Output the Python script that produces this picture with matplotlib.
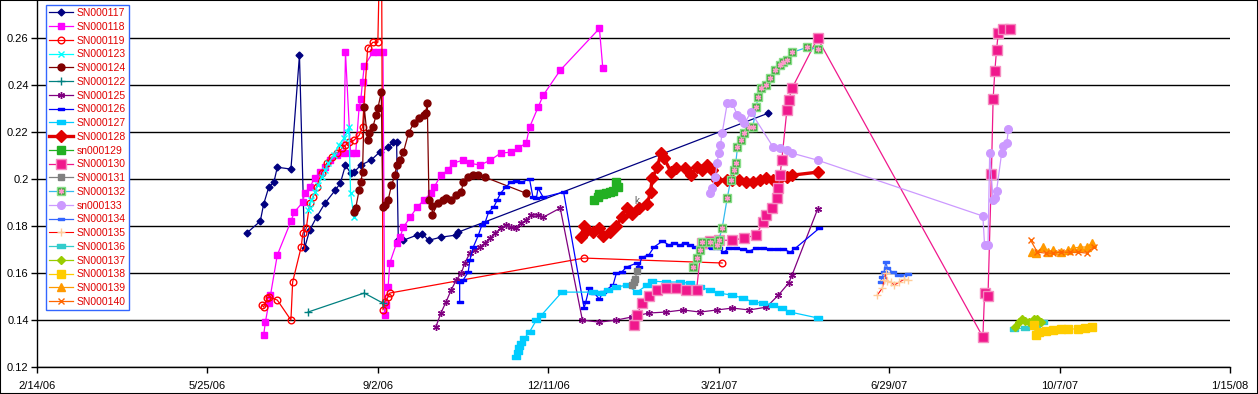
import matplotlib

matplotlib.use("Agg")
import matplotlib.pyplot as plt
import numpy as np
import pandas as pd
from matplotlib.path import Path
from matplotlib.patches import Rectangle
from matplotlib.ticker import FuncFormatter

d117 = [38885, 38893, 38895, 38898, 38901, 38903, 38911, 38916, 38919, 38922, 38926, 38931, 38937, 38940,
        38943, 38946, 38948, 38952, 38958, 38963, 38968, 38971, 38973, 38974, 38977, 38985, 38988, 38992,
        38999, 39008, 39009, 39191]
v117 = [0.1770, 0.1821, 0.1894, 0.1966, 0.1987, 0.2051, 0.2043, 0.2528, 0.1706, 0.1783, 0.1838, 0.1898,
        0.1953, 0.1983, 0.2060, 0.2026, 0.2030, 0.2060, 0.2081, 0.2115, 0.2136, 0.2157, 0.2157, 0.1740,
        0.1740, 0.1762, 0.1766, 0.1740, 0.1753, 0.1762, 0.1774, 0.2281]

d118 = [38895, 38896, 38898, 38899, 38903, 38911, 38913, 38918, 38919, 38922, 38925, 38928, 38931, 38934,
        38938, 38942, 38943, 38946, 38949, 38951, 38952, 38953, 38954, 38959, 38962, 38965, 38966, 38967,
        38968, 38969, 38973, 38975, 38977, 38981, 38985, 38989, 38993, 38995, 38999, 39003, 39006, 39012,
        39016, 39022, 39028, 39034, 39040, 39044, 39049, 39051, 39056, 39059, 39069, 39092, 39094]
v118 = [0.1336, 0.1391, 0.1472, 0.1506, 0.1677, 0.1821, 0.1860, 0.1902, 0.1940, 0.1966, 0.2004, 0.2030,
        0.2051, 0.2081, 0.2102, 0.2111, 0.2540, 0.2111, 0.2111, 0.2306, 0.2340, 0.2413, 0.2481, 0.2540,
        0.2540, 0.2540, 0.1421, 0.1464, 0.1540, 0.1643, 0.1728, 0.1753, 0.1796, 0.1838, 0.1881, 0.1911,
        0.1940, 0.1966, 0.2017, 0.2038, 0.2068, 0.2081, 0.2068, 0.2060, 0.2081, 0.2111, 0.2115, 0.2132,
        0.2153, 0.2221, 0.2306, 0.2357, 0.2464, 0.2642, 0.2472]

d119 = [38894, 38895, 38897, 38898, 38903, 38911, 38912, 38917, 38918, 38920, 38922, 38924, 38926, 38929,
        38932, 38935, 38938, 38941, 38943, 38945, 38948, 38951, 38953, 38956, 38959, 38962, 38964, 38965,
        38966, 38968, 38969, 39083, 39164]
v119 = [0.1464, 0.1455, 0.1494, 0.1498, 0.1485, 0.1400, 0.1562, 0.1711, 0.1770, 0.1791, 0.1898, 0.1923,
        0.1966, 0.2026, 0.2068, 0.2094, 0.2111, 0.2132, 0.2145, 0.2157, 0.2166, 0.2187, 0.2221, 0.2557,
        0.2583, 0.2583, 0.3300, 0.1443, 0.1477, 0.1498, 0.1515, 0.1664, 0.1643]

d123 = [38921, 38922, 38923, 38925, 38927, 38929, 38931, 38933, 38936, 38939, 38942, 38944, 38945, 38946,
        38948]
v123 = [0.1868, 0.1877, 0.1911, 0.1945, 0.1974, 0.2008, 0.2038, 0.2068, 0.2102, 0.2145, 0.2174, 0.2200,
        0.2221, 0.1940, 0.1838]

d124 = [38948, 38949, 38951, 38952, 38953, 38954, 38956, 38957, 38959, 38961, 38962, 38964, 38965, 38966,
        38968, 38970, 38972, 38973, 38975, 38977, 38980, 38983, 38986, 38989, 38990, 38991, 38992, 38994,
        38994, 38997, 39000, 39002, 39005, 39008, 39011, 39012, 39015, 39018, 39021, 39025, 39049]
v124 = [0.1860, 0.1877, 0.1953, 0.1987, 0.2030, 0.2306, 0.2166, 0.2196, 0.2221, 0.2272, 0.2302, 0.2370,
        0.1881, 0.1889, 0.1911, 0.1974, 0.2017, 0.2060, 0.2081, 0.2115, 0.2196, 0.2238, 0.2260, 0.2272,
        0.2281, 0.2323, 0.1911, 0.1885, 0.1847, 0.1898, 0.1911, 0.1919, 0.1911, 0.1932, 0.1945, 0.1987,
        0.2008, 0.2017, 0.2017, 0.2008, 0.1940]

d122 = [38921, 38954, 38965]
v122 = [0.1434, 0.1515, 0.1472]

d125 = [38996, 38999, 39002, 39005, 39008, 39011, 39013, 39016, 39019, 39022, 39025, 39028, 39031, 39034,
        39037, 39040, 39043, 39046, 39049, 39052, 39056, 39059, 39069, 39082, 39092, 39102, 39111, 39121,
        39131, 39141, 39151, 39161, 39170, 39180, 39190, 39197, 39203, 39205, 39220]
v125 = [0.1370, 0.1430, 0.1477, 0.1528, 0.1570, 0.1600, 0.1643, 0.1685, 0.1698, 0.1711, 0.1728, 0.1749,
        0.1770, 0.1791, 0.1804, 0.1796, 0.1791, 0.1813, 0.1825, 0.1847, 0.1847, 0.1838, 0.1877, 0.1400,
        0.1391, 0.1400, 0.1413, 0.1430, 0.1434, 0.1443, 0.1434, 0.1443, 0.1451, 0.1443, 0.1455, 0.1506,
        0.1557, 0.1591, 0.1872]

d126 = [39010, 39010, 39012, 39015, 39016, 39018, 39021, 39023, 39025, 39027, 39030, 39032, 39034, 39037,
        39040, 39043, 39046, 39051, 39053, 39055, 39056, 39059, 39071, 39083, 39084, 39086, 39089, 39092,
        39094, 39100, 39102, 39105, 39108, 39114, 39115, 39117, 39121, 39124, 39129, 39133, 39136, 39139,
        39142, 39145, 39148, 39151, 39155, 39158, 39162, 39165, 39168, 39172, 39176, 39180, 39184, 39188,
        39192, 39196, 39200, 39204, 39207, 39221]
v126 = [0.1477, 0.1562, 0.1570, 0.1604, 0.1655, 0.1711, 0.1762, 0.1804, 0.1817, 0.1860, 0.1881, 0.1911,
        0.1940, 0.1966, 0.1987, 0.1991, 0.1987, 0.2000, 0.1923, 0.1919, 0.1962, 0.1923, 0.1945, 0.1451,
        0.1477, 0.1536, 0.1515, 0.1489, 0.1519, 0.1549, 0.1600, 0.1604, 0.1626, 0.1643, 0.1626, 0.1668,
        0.1677, 0.1711, 0.1736, 0.1719, 0.1728, 0.1719, 0.1728, 0.1719, 0.1711, 0.1706, 0.1711, 0.1706,
        0.1706, 0.1689, 0.1706, 0.1706, 0.1702, 0.1694, 0.1706, 0.1706, 0.1702, 0.1702, 0.1702, 0.1689,
        0.1706, 0.1791]

d127 = [39043, 39044, 39045, 39046, 39048, 39051, 39055, 39058, 39070, 39088, 39093, 39097, 39102, 39108,
        39114, 39120, 39123, 39131, 39139, 39145, 39151, 39157, 39162, 39170, 39176, 39182, 39188, 39194,
        39199, 39204, 39220]
v127 = [0.1243, 0.1264, 0.1285, 0.1302, 0.1323, 0.1349, 0.1400, 0.1421, 0.1519, 0.1519, 0.1515, 0.1528,
        0.1540, 0.1549, 0.1519, 0.1549, 0.1566, 0.1562, 0.1562, 0.1557, 0.1540, 0.1528, 0.1515, 0.1506,
        0.1494, 0.1477, 0.1472, 0.1464, 0.1451, 0.1434, 0.1409]

d128 = [39081, 39083, 39085, 39088, 39092, 39094, 39098, 39102, 39105, 39108, 39111, 39115, 39120, 39122,
        39123, 39126, 39128, 39130, 39134, 39137, 39142, 39146, 39149, 39152, 39155, 39158, 39161, 39167,
        39170, 39174, 39178, 39182, 39186, 39190, 39194, 39198, 39202, 39205, 39220]
v128 = [0.1753, 0.1800, 0.1783, 0.1774, 0.1791, 0.1757, 0.1774, 0.1800, 0.1838, 0.1877, 0.1851, 0.1877,
        0.1894, 0.1945, 0.2004, 0.2051, 0.2111, 0.2089, 0.2030, 0.2047, 0.2047, 0.2017, 0.2051, 0.2038,
        0.2060, 0.2038, 0.1996, 0.1996, 0.1996, 0.1996, 0.1987, 0.1987, 0.1996, 0.2004, 0.1996, 0.2004,
        0.2008, 0.2017, 0.2030]

d129 = [39089, 39091, 39092, 39094, 39096, 39098, 39100, 39102, 39103]
v129 = [0.1911, 0.1923, 0.1936, 0.1936, 0.1940, 0.1945, 0.1949, 0.1987, 0.1966]

d130 = [39112, 39114, 39117, 39121, 39126, 39131, 39137, 39143, 39149, 39152, 39157, 39162, 39170, 39177,
        39184, 39188, 39190, 39193, 39196, 39197, 39198, 39199, 39202, 39203, 39205, 39220, 39317, 39318,
        39320, 39322, 39323, 39324, 39325, 39326, 39329, 39333]
v130 = [0.1379, 0.1421, 0.1472, 0.1502, 0.1528, 0.1536, 0.1536, 0.1528, 0.1528, 0.1728, 0.1736, 0.1740,
        0.1740, 0.1749, 0.1762, 0.1817, 0.1847, 0.1877, 0.1919, 0.1962, 0.2017, 0.2081, 0.2294, 0.2336,
        0.2387, 0.2600, 0.1328, 0.1515, 0.1502, 0.2021, 0.2340, 0.2459, 0.2549, 0.2621, 0.2638, 0.2638]

d131 = [39111, 39112, 39113, 39114]
v131 = [0.1549, 0.1562, 0.1574, 0.1608]

d132 = [39147, 39149, 39151, 39152, 39157, 39161, 39162, 39164, 39167, 39169, 39171, 39172, 39173, 39175,
        39177, 39180, 39182, 39184, 39185, 39187, 39190, 39192, 39195, 39198, 39200, 39202, 39205, 39214,
        39220]
v132 = [0.1626, 0.1664, 0.1698, 0.1732, 0.1732, 0.1719, 0.1740, 0.1791, 0.1919, 0.1996, 0.2038, 0.2068,
        0.2136, 0.2166, 0.2196, 0.2221, 0.2221, 0.2306, 0.2349, 0.2387, 0.2400, 0.2430, 0.2464, 0.2485,
        0.2498, 0.2506, 0.2540, 0.2562, 0.2553]

d133 = [39157, 39158, 39160, 39161, 39162, 39163, 39164, 39167, 39170, 39173, 39175, 39177, 39181, 39194,
        39198, 39202, 39205, 39220, 39317, 39318, 39320, 39321, 39323, 39324, 39325, 39328, 39329, 39331,
        39332]
v133 = [0.1940, 0.1962, 0.2008, 0.2068, 0.2111, 0.2145, 0.2196, 0.2323, 0.2323, 0.2272, 0.2260, 0.2238,
        0.2285, 0.2136, 0.2132, 0.2123, 0.2111, 0.2081, 0.1843, 0.1719, 0.1719, 0.2111, 0.1911, 0.1919,
        0.1949, 0.2111, 0.2140, 0.2153, 0.2213]

d134 = [39257, 39258, 39259, 39260, 39261, 39264, 39267, 39270, 39273]
v134 = [0.1562, 0.1583, 0.1604, 0.1647, 0.1621, 0.1604, 0.1591, 0.1591, 0.1596]

d135 = [39255, 39258, 39259, 39260, 39261, 39263, 39265, 39268, 39271, 39273]
v135 = [0.1506, 0.1536, 0.1570, 0.1600, 0.1566, 0.1562, 0.1549, 0.1562, 0.1574, 0.1570]

d136 = [39335, 39342, 39348, 39352]
v136 = [0.1362, 0.1366, 0.1370, 0.1391]

d137 = [39336, 39338, 39340, 39342, 39344, 39347, 39349, 39351]
v137 = [0.1370, 0.1391, 0.1404, 0.1396, 0.1391, 0.1404, 0.1404, 0.1391]

d138 = [39347, 39348, 39350, 39354, 39358, 39363, 39367, 39373, 39377, 39381]
v138 = [0.1379, 0.1336, 0.1349, 0.1353, 0.1357, 0.1362, 0.1362, 0.1362, 0.1366, 0.1370]

d139 = [39346, 39348, 39352, 39355, 39358, 39363, 39367, 39370, 39374, 39378, 39381]
v139 = [0.1689, 0.1685, 0.1711, 0.1689, 0.1698, 0.1689, 0.1698, 0.1706, 0.1711, 0.1711, 0.1728]

d140 = [39345, 39349, 39354, 39358, 39363, 39368, 39373, 39378, 39382]
v140 = [0.1740, 0.1689, 0.1685, 0.1685, 0.1689, 0.1689, 0.1689, 0.1685, 0.1711]

y_ticks = [0.12, 0.14, 0.16, 0.18, 0.20, 0.22, 0.24, 0.26]
x_start, x_end = "2006-02-14", "2008-01-15"


def to_dates(serials):
    return pd.to_datetime(np.asarray(serials), unit="D", origin="1899-12-30")


# Excel-like "dash" marker: flat rectangle
DASH = Path([(-1, -0.45), (1, -0.45), (1, 0.45), (-1, 0.45), (-1, -0.45)],
            [Path.MOVETO, Path.LINETO, Path.LINETO, Path.LINETO, Path.CLOSEPOLY])
STAR = (6, 2, 0)

# label, dates, values, line colour, marker, size, face, edge, line width
series = [
    ("SN000117", d117, v117, "#000080", "D", 3.5, "#000080", "#000080", 0.9),
    ("SN000118", d118, v118, "#ff00ff", "s", 4.8, "#ff00ff", "#ff00ff", 0.9),
    ("SN000119", d119, v119, "#ff0000", "o", 4.8, "none", "#ff0000", 0.9),
    ("SN000123", d123, v123, "#00ffff", "x", 4.5, "#00ffff", "#00ffff", 0.9),
    ("SN000124", d124, v124, "#800000", "o", 5, "#800000", "#800000", 0.9),
    ("SN000122", d122, v122, "#008080", "+", 5.5, "#008080", "#008080", 0.9),
    ("SN000125", d125, v125, "#800080", STAR, 5, "#800080", "#800080", 0.9),
    ("SN000126", d126, v126, "#0000ff", DASH, 4.5, "#0000ff", "#0000ff", 0.9),
    ("SN000127", d127, v127, "#00ccff", DASH, 5.5, "#00ccff", "#00ccff", 0.9),
    ("SN000128", d128, v128, "#e00000", "D", 6, "#e00000", "#e00000", 2.4),
    ("sn000129", d129, v129, "#22b022", "s", 5.5, "#22b022", "#22b022", 0.9),
    ("SN000130", d130, v130, "#f0188c", "s", 6.5, "#f0188c", "#f58cc0", 0.9),
    ("SN000131", d131, v131, "#808080", "s", 5, "#808080", "#808080", 0.9),
    ("SN000132", d132, v132, "#33bbee", "s", 6, "#33aa33", "#88dd88", 0.9),
    ("sn000133", d133, v133, "#cc99ff", "o", 5.5, "#cc99ff", "#cc99ff", 0.9),
    ("SN000134", d134, v134, "#3366ff", DASH, 4.5, "#3366ff", "#3366ff", 0.9),
    ("SN000135", d135, v135, "#ff0000", "+", 5.5, "#ffcc99", "#ffcc99", 0.8),
    ("SN000136", d136, v136, "#33cccc", DASH, 5.5, "#33cccc", "#33cccc", 0.9),
    ("SN000137", d137, v137, "#99cc00", "D", 4.5, "#99cc00", "#99cc00", 0.9),
    ("SN000138", d138, v138, "#ffcc00", "s", 5.5, "#ffcc00", "#ffcc00", 0.9),
    ("SN000139", d139, v139, "#ff9900", "^", 5.5, "#ff9900", "#ff9900", 0.9),
    ("SN000140", d140, v140, "#ff6600", "x", 4.5, "#ff6600", "#ff6600", 0.9),
]

plt.rcParams["font.family"] = ["Liberation Sans", "DejaVu Sans"]

fig = plt.figure(figsize=(12.58, 3.94), dpi=100)
ax = fig.add_axes([37 / 1258, 1 - 367 / 394, (1230 - 37) / 1258, 366 / 394])

handles = []
for label, dates, values, color, marker, size, face, edge, lw in series:
    (line,) = ax.plot(to_dates(dates), values, color=color, lw=lw, marker=marker, markersize=size,
                      markerfacecolor=face, markeredgecolor=edge, markeredgewidth=1, label=label)
    if label == "SN000132":
        # pink asterisk drawn inside the green squares
        (star,) = ax.plot(to_dates(dates), values, linestyle="none", marker=STAR, markersize=4,
                          color="#ff99cc", markeredgewidth=1)
        handles.append((line, star))
    else:
        handles.append(line)

ax.text(to_dates([39114])[0], 0.1905, "k", fontsize=7, color="#555555", ha="center", va="center")

ax.set_xlim(pd.Timestamp(x_start), pd.Timestamp(x_end))
ax.set_ylim(0.12, 0.2759)
tick_dates = pd.date_range(x_start, x_end, freq="100D")
ax.set_xticks(tick_dates)
ax.set_xticklabels([f"{d.month}/{d.day}/{d.strftime('%y')}" for d in tick_dates])
ax.set_yticks(y_ticks)
ax.yaxis.set_major_formatter(FuncFormatter(lambda v, _: f"{round(v, 2):g}"))
ax.tick_params(axis="both", labelsize=8, length=4, width=1, color="black", pad=2)
ax.tick_params(axis="x", pad=6)

ax.yaxis.grid(True, color="black", linewidth=1)
ax.set_axisbelow(True)
for side in ("top", "right"):
    ax.spines[side].set_visible(False)
for side in ("left", "bottom"):
    ax.spines[side].set_color("black")
    ax.spines[side].set_linewidth(1)

legend = ax.legend(handles, [s[0] for s in series], loc="upper left",
                   bbox_to_anchor=(9 / 1193, 362 / 366), borderaxespad=0, fontsize=7.5,
                   labelspacing=0.36, handlelength=2.3, handletextpad=0.35, borderpad=0.3,
                   fancybox=False, framealpha=1, edgecolor="#3366ff")
legend.get_frame().set_linewidth(1)
for text in legend.get_texts():
    text.set_color("#e00000")

fig.patches.append(Rectangle((0, 0), 1, 1, transform=fig.transFigure, fill=False,
                             edgecolor="black", linewidth=1.5))

fig.savefig("out.png", dpi=100)
